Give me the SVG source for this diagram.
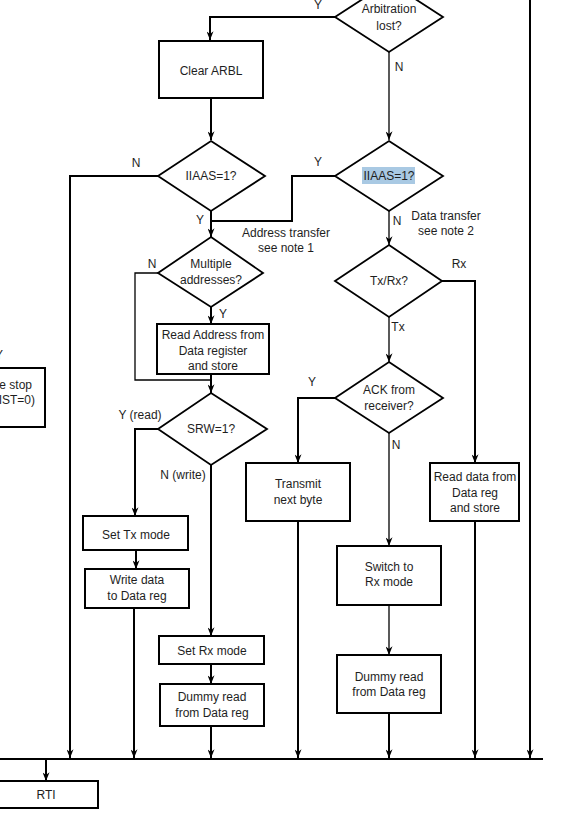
<svg xmlns="http://www.w3.org/2000/svg" width="574" height="813" viewBox="0 0 574 813">
<style>
text{font-family:"Liberation Sans",Arial,sans-serif;font-size:12px;fill:#1e1e1e;text-anchor:middle}
.lbl{font-size:12px}
.box{fill:#fff;stroke:#000;stroke-width:2}
.dia{fill:#fff;stroke:#000;stroke-width:1.8}
.c{fill:none;stroke:#000;stroke-width:2}
.t{fill:none;stroke:#000;stroke-width:1.3}
</style>
<defs>
<marker id="ah" viewBox="0 0 10 8" refX="10" refY="4" markerWidth="10" markerHeight="7" markerUnits="userSpaceOnUse" orient="auto">
<path d="M0,0 L10,4 L0,8 L3,4 z" fill="#000"/>
</marker>
</defs>
<rect width="574" height="813" fill="#fff"/>

<g id="connectors">
<path class="c" d="M335,17 H210 V40" marker-end="url(#ah)"/>
<path class="c" d="M211,98 V140" marker-end="url(#ah)"/>
<path class="t" d="M389,52 V140" marker-end="url(#ah)"/>
<path class="c" d="M158,176 H70 V758" marker-end="url(#ah)"/>
<path class="c" d="M211,211 V237" marker-end="url(#ah)"/>
<path class="c" d="M335,176 H292 V221 H211"/>
<path class="t" d="M389,211 V245" marker-end="url(#ah)"/>
<path class="c" d="M442,281 H475 V463" marker-end="url(#ah)"/>
<path class="t" d="M389,317 V362" marker-end="url(#ah)"/>
<path class="c" d="M335,398 H298 V463" marker-end="url(#ah)"/>
<path class="t" d="M389,433 V546" marker-end="url(#ah)"/>
<path class="t" d="M389,605 V655" marker-end="url(#ah)"/>
<path class="c" d="M389,713 V758" marker-end="url(#ah)"/>
<path class="c" d="M475,521 V758" marker-end="url(#ah)"/>
<path class="c" d="M298,521 V758" marker-end="url(#ah)"/>
<path class="c" d="M530,0 V758" marker-end="url(#ah)"/>
<path class="t" d="M158,273 H135 V380 H211"/>
<path class="c" d="M211,307 V324" marker-end="url(#ah)"/>
<path class="c" d="M211,374 V393" marker-end="url(#ah)"/>
<path class="c" d="M158,429 H135 V516" marker-end="url(#ah)"/>
<path class="c" d="M211,465 V636" marker-end="url(#ah)"/>
<path class="c" d="M136,550 V569" marker-end="url(#ah)"/>
<path class="c" d="M134,608 V758" marker-end="url(#ah)"/>
<path class="c" d="M211,664 V684" marker-end="url(#ah)"/>
<path class="c" d="M211,726 V758" marker-end="url(#ah)"/>
<path class="c" d="M0,759 H543" stroke-width="2.5"/>
<path class="c" d="M46,759 V781" marker-end="url(#ah)"/>
<text x="318" y="9">Y</text>
<text x="399" y="71">N</text>
<text x="136" y="167">N</text>
<text x="318" y="166">Y</text>
<text x="200" y="224">Y</text>
<text x="286" y="237">Address transfer</text>
<text x="286" y="252">see note 1</text>
<text x="397" y="225">N</text>
<text x="446" y="220">Data transfer</text>
<text x="446" y="235">see note 2</text>
<text x="459" y="268">Rx</text>
<text x="398" y="331">Tx</text>
<text x="312" y="386">Y</text>
<text x="396" y="449">N</text>
<text x="152" y="268">N</text>
<text x="223" y="318">Y</text>
<text x="140" y="419">Y (read)</text>
<text x="183" y="479">N (write)</text>
<text x="3" y="359" style="text-anchor:end">Y</text>
</g>

<g id="arbitration">
<polygon class="dia" points="389,-18 443,17 389,52 335,17"/>
<text x="389" y="13">Arbitration</text>
<text x="389" y="30">lost?</text>
</g>
<g id="clear-arbl">
<rect class="box" x="159" y="41" width="104" height="57"/>
<text x="211" y="75">Clear ARBL</text>
</g>
<g id="iiaas-left">
<polygon class="dia" points="211,141 265,176 211,211 158,176"/>
<text x="211" y="180">IIAAS=1?</text>
</g>
<g id="iiaas-right">
<polygon class="dia" points="389,141 443,176 389,211 335,176"/>
<rect x="362" y="167" width="53" height="17" fill="#a9c9e3"/>
<text x="389" y="180">IIAAS=1?</text>
</g>
<g id="multiple">
<polygon class="dia" points="211,237 263,273 211,307 158,273"/>
<text x="211" y="268">Multiple</text>
<text x="211" y="284">addresses?</text>
</g>
<g id="read-address">
<rect class="box" x="157" y="324" width="112" height="50"/>
<text x="213" y="339">Read Address from</text>
<text x="213" y="355">Data register</text>
<text x="213" y="370">and store</text>
</g>
<g id="srw">
<polygon class="dia" points="211,393 267,429 211,465 158,429"/>
<text x="211" y="433">SRW=1?</text>
</g>
<g id="set-tx">
<rect class="box" x="83" y="516" width="105" height="34"/>
<text x="136" y="539">Set Tx mode</text>
</g>
<g id="write-data">
<rect class="box" x="85" y="569" width="104" height="39"/>
<text x="137" y="584">Write data</text>
<text x="137" y="600">to Data reg</text>
</g>
<g id="set-rx">
<rect class="box" x="159" y="636" width="105" height="28"/>
<text x="212" y="655">Set Rx mode</text>
</g>
<g id="dummy-left">
<rect class="box" x="160" y="684" width="104" height="42"/>
<text x="212" y="701">Dummy read</text>
<text x="212" y="717">from Data reg</text>
</g>
<g id="txrx">
<polygon class="dia" points="389,245 442,281 389,317 335,281"/>
<text x="389" y="285">Tx/Rx?</text>
</g>
<g id="ack">
<polygon class="dia" points="389,362 443,398 389,433 335,398"/>
<text x="389" y="394">ACK from</text>
<text x="389" y="410">receiver?</text>
</g>
<g id="transmit">
<rect class="box" x="246" y="463" width="104" height="58"/>
<text x="298" y="488">Transmit</text>
<text x="298" y="504">next byte</text>
</g>
<g id="read-data">
<rect class="box" x="430" y="463" width="89" height="58"/>
<text x="475" y="481">Read data from</text>
<text x="475" y="497">Data reg</text>
<text x="475" y="512">and store</text>
</g>
<g id="switch-rx">
<rect class="box" x="337" y="546" width="104" height="59"/>
<text x="389" y="571">Switch to</text>
<text x="389" y="586">Rx mode</text>
</g>
<g id="dummy-right">
<rect class="box" x="337" y="655" width="104" height="58"/>
<text x="389" y="681">Dummy read</text>
<text x="389" y="696">from Data reg</text>
</g>
<g id="stop">
<rect class="box" x="-20" y="368" width="65" height="59"/>
<text x="32" y="389" style="text-anchor:end">e stop</text>
<text x="35" y="404" style="text-anchor:end">IST=0)</text>
</g>
<g id="rti">
<rect class="box" x="-20" y="781" width="118" height="27"/>
<text x="46" y="799">RTI</text>
</g>
</svg>
